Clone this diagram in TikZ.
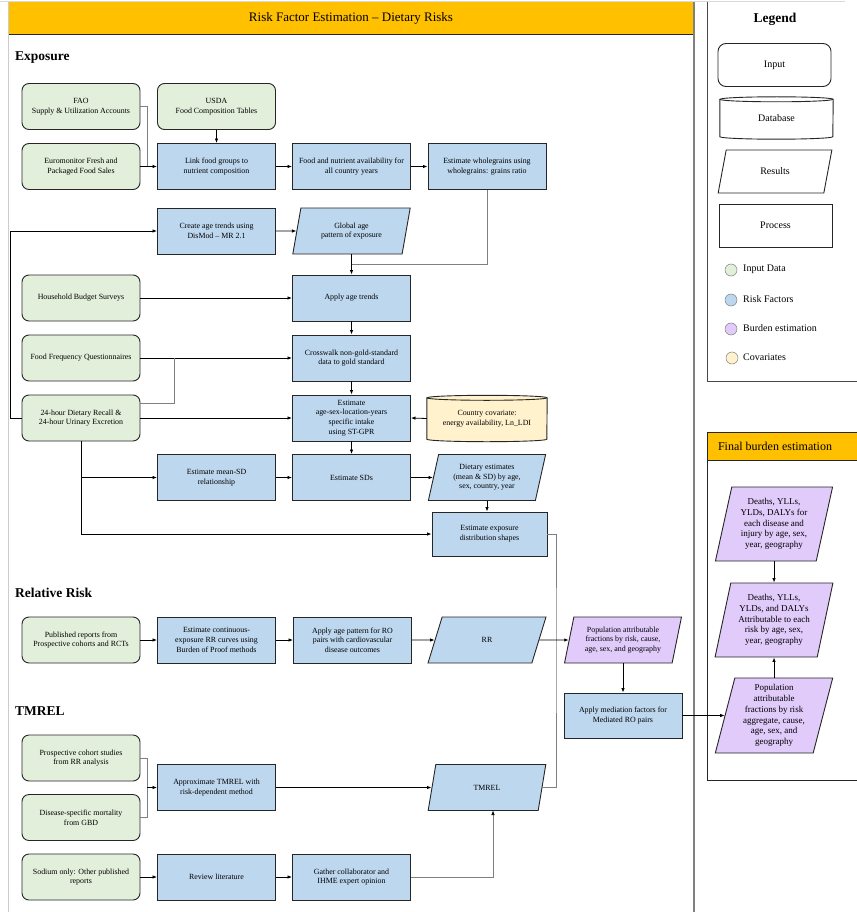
\documentclass[tikz,border=0pt]{standalone}
\usepackage{fontspec}
\setmainfont{Liberation Serif}
\usetikzlibrary{shapes.geometric,arrows.meta,calc}
\pgfdeclarelayer{back}
\pgfdeclarelayer{bg}
\pgfsetlayers{back,bg,main}
\definecolor{ingreen}{HTML}{E2EFDA}
\definecolor{rfblue}{HTML}{BDD7EE}
\definecolor{bpurple}{HTML}{E0CBFA}
\definecolor{hdryellow}{HTML}{FFC000}
\definecolor{covfill}{HTML}{FFF2CC}
\definecolor{edge}{HTML}{262626}
\definecolor{lgray}{HTML}{7F7F7F}
\definecolor{framegray}{HTML}{808080}
\newcommand\mycyl[3]{%
  \begin{pgfonlayer}{bg}
  \filldraw[fill=#2, draw=edge, line width=0.9pt]
    ([yshift=-2.5pt]#1.north west) -- ([yshift=2.5pt]#1.south west)
    arc[start angle=180, end angle=360, x radius=#3, y radius=2.5pt]
    -- ([yshift=-2.5pt]#1.north east)
    arc[start angle=0, end angle=180, x radius=#3, y radius=2.5pt] -- cycle;
  \draw[edge, line width=0.9pt] ([yshift=-2.5pt]#1.north west)
    arc[start angle=180, end angle=360, x radius=#3, y radius=2.5pt];
  \end{pgfonlayer}}
\begin{document}
\begin{tikzpicture}[x=1pt,y=-1pt,
  every node/.style={font=\fontsize{7.9}{9.7}\selectfont, align=center, inner sep=2pt},
  basebox/.style={draw=edge, line width=0.9pt, minimum width=118pt, minimum height=46pt},
  inbox/.style={basebox, rounded corners=7pt, fill=ingreen},
  procbox/.style={basebox, fill=rfblue},
  parabox/.style={basebox, trapezium, trapezium left angle=76, trapezium right angle=104, trapezium stretches=true},
  resbox/.style={parabox, fill=rfblue},
  burdbox/.style={parabox, fill=bpurple},
  finbox/.style={burdbox, minimum height=74pt, font=\fontsize{9}{10.7}\selectfont},
  cylnode/.style={minimum width=120pt, minimum height=46pt},
  arr/.style={line width=0.8pt, draw=black, -{Latex[length=4.5pt,width=3.5pt]}},
  garr/.style={line width=0.6pt, draw=lgray, -{Latex[length=4.5pt,width=3.5pt,color=black]}},
  gline/.style={line width=0.6pt, draw=lgray},
  heading/.style={font=\fontsize{13.5}{16}\selectfont\bfseries, anchor=west, inner sep=0pt},
  legtext/.style={font=\fontsize{10}{12}\selectfont, anchor=west, inner sep=0pt},
  legbox/.style={draw=edge, line width=0.9pt, minimum width=113pt, minimum height=43pt, font=\fontsize{10}{12}\selectfont},
  legdot/.style={circle, draw=lgray, line width=0.5pt, minimum size=12pt, inner sep=0pt},
]
\useasboundingbox (0,0) rectangle (856,912);
\begin{pgfonlayer}{back}
\fill[white] (0,0) rectangle (856,912);
\end{pgfonlayer}

% ---------- frames ----------
\draw[black!15, line width=0.6pt] (0,1.5) -- (845,1.5);
\fill[hdryellow] (8,2) rectangle (694,34);
\draw[edge, line width=0.8pt] (8,34) -- (694,34);
\node[font=\fontsize{13}{15}\selectfont] (title) at (351,18) {Risk Factor Estimation – Dietary Risks};
\draw[black!20, line width=0.6pt] (8,2) -- (8,912);
\draw[framegray, line width=1.6pt] (694,2) -- (694,912);
\draw[edge!85, line width=0.9pt] (707,2) -- (707,381) -- (857,381);
\fill[hdryellow] (707,432) rectangle (857,460);
\draw[edge, line width=0.9pt] (857,432) -- (707,432) -- (707,780) -- (857,780);
\draw[edge, line width=0.8pt] (707,460) -- (857,460);
\node[font=\fontsize{12}{14}\selectfont] (fbtitle) at (775,446) {Final burden estimation};

% ---------- legend ----------
\node[font=\fontsize{13.5}{16}\selectfont\bfseries] (legtitle) at (775,19) {Legend};
\node[legbox, rounded corners=8pt] (lgin) at (774.5,65) {Input};
\node[cylnode, minimum width=113pt, minimum height=42pt, font=\fontsize{10}{12}\selectfont] (lgdb) at (776.5,118) {Database};
\mycyl{lgdb}{white}{56.5pt}
\node[legbox, parabox, minimum width=114pt, minimum height=43pt] (lgres) at (775,171.5) {Results};
\node[legbox] (lgproc) at (775.5,225.5) {Process};
\node[legdot, fill=ingreen] (d1) at (731,270) {};
\node[legdot, fill=rfblue] (d2) at (731,300) {};
\node[legdot, fill=bpurple] (d3) at (731,329) {};
\node[legdot, fill=covfill] (d4) at (732,358) {};
\node[legtext] (t1) at (743,269) {Input Data};
\node[legtext] (t2) at (743,299) {Risk Factors};
\node[legtext] (t3) at (743,328) {Burden estimation};
\node[legtext] (t4) at (743,357) {Covariates};

% ---------- headings ----------
\node[heading] (hexp) at (15,58) {Exposure};
\node[heading] (hrr) at (15,593) {Relative Risk};
\node[heading] (htm) at (15,711) {TMREL};

% ---------- exposure ----------
\node[inbox] (fao) at (81,106.5) {FAO\\Supply \& Utilization Accounts};
\node[inbox] (usda) at (216.5,106.5) {USDA\\Food Composition Tables};
\node[inbox] (euro) at (81,166.5) {Euromonitor Fresh and\\Packaged Food Sales};
\node[procbox] (link) at (216.5,166.5) {Link food groups to\\nutrient composition};
\node[procbox] (food) at (351.5,166.5) {Food and nutrient availability for\\all country years};
\node[procbox] (whole) at (487,166.5) {Estimate wholegrains using\\wholegrains: grains ratio};
\node[procbox] (create) at (216.5,231) {Create age trends using\\DisMod – MR 2.1};
\node[resbox] (glob) at (351.5,231) {Global age\\pattern of exposure};
\node[inbox] (hbs) at (81,298) {Household Budget Surveys};
\node[procbox] (apply) at (351.5,298) {Apply age trends};
\node[inbox] (ffq) at (81,358) {Food Frequency Questionnaires};
\node[procbox] (cross) at (351.5,358) {Crosswalk non-gold-standard\\data to gold standard};
\node[inbox] (rec) at (81,418) {24-hour Dietary Recall \&\\24-hour Urinary Excretion};
\node[procbox] (stgpr) at (351.5,418) {Estimate\\age-sex-location-years\\specific intake\\using ST-GPR};
\node[cylnode] (cov) at (487,418.5) {Country covariate:\\energy availability, Ln\_LDI};
\mycyl{cov}{covfill}{60pt}
\node[procbox] (msd) at (216.5,477.5) {Estimate mean-SD\\relationship};
\node[procbox] (sds) at (351.5,477.5) {Estimate SDs};
\node[resbox] (diet) at (487,477.5) {Dietary estimates\\(mean \& SD) by age,\\sex, country, year};
\node[procbox, minimum width=115pt, minimum height=44pt] (shape) at (489.5,534) {Estimate exposure\\distribution shapes};

% ---------- relative risk ----------
\node[inbox] (pub) at (81,640) {Published reports from\\Prospective cohorts and RCTs};
\node[procbox] (cont) at (216.5,640) {Estimate continuous-\\exposure RR curves using\\Burden of Proof methods};
\node[procbox] (agep) at (352.5,640) {Apply age pattern for RO\\pairs with cardiovascular\\disease outcomes};
\node[resbox] (rr) at (487,640) {RR};
\node[burdbox] (paf) at (623,640) {Population attributable\\fractions by risk, cause,\\age, sex, and geography};
\node[procbox, minimum height=45pt] (med) at (623,715.5) {Apply mediation factors for\\Mediated RO pairs};

% ---------- TMREL ----------
\node[inbox] (pro) at (81,758) {Prospective cohort studies\\from RR analysis};
\node[inbox] (dis) at (81,817.5) {Disease-specific mortality\\from GBD};
\node[procbox] (appr) at (216.5,787.5) {Approximate TMREL with\\risk-dependent method};
\node[resbox] (tmrel) at (487,787.5) {TMREL};
\node[inbox] (sod) at (81,877) {Sodium only: Other published\\reports};
\node[procbox] (rev) at (216.5,877) {Review literature};
\node[procbox] (gath) at (351.5,877) {Gather collaborator and\\IHME expert opinion};

% ---------- final burden ----------
\node[finbox] (f1) at (774,524) {Deaths, YLLs,\\YLDs, DALYs for\\each disease and\\injury by age, sex,\\year, geography};
\node[finbox] (f2) at (774,620) {Deaths, YLLs,\\YLDs, and DALYs\\Attributable to each\\risk by age, sex,\\year, geography};
\node[finbox, minimum height=75pt] (f3) at (774,715.5) {Population\\attributable\\fractions by risk\\aggregate, cause,\\age, sex, and\\geography};

% ---------- connectors ----------
\draw[gline] (fao.east) -| ([xshift=7pt]euro.east);
\draw[arr] (euro.east) -- (link.west);
\draw[arr] (usda.south) -- (link.north);
\draw[arr] (link.east) -- (food.west);
\draw[arr] (food.east) -- (whole.west);
\draw[gline] (whole.south) |- ([yshift=10pt]apply.north);
\draw[arr] (create.east) -- (glob.west);
\draw[arr] (glob.center |- glob.south) -- (glob.center |- apply.north);
\draw[arr] (hbs.east) -- (apply.west);
\draw[arr] (apply.south) -- (cross.north);
\draw[arr] (ffq.east) -- (cross.west);
\draw[gline] ([yshift=15pt]rec.east) -| ([xshift=34pt]ffq.east);
\draw[arr] (rec.east) -- (stgpr.west);
\draw[arr] (rec.west) -- ++(-11,0) |- (create.west);
\draw[arr] (cross.south) -- (stgpr.north);
\draw[arr] (cov.west) -- (stgpr.east);
\draw[arr] (stgpr.south) -- (sds.north);
\draw[arr] (rec.south) |- (shape.west);
\draw[arr] (rec.south |- msd.west) -- (msd.west);
\draw[arr] (msd.east) -- (sds.west);
\draw[arr] (sds.east) -- (diet.west);
\draw[arr] (diet.center |- diet.south) -- (diet.center |- shape.north);
\coordinate (jn) at (556,640);
\draw[gline] (shape.east) -| (jn) |- (tmrel.east);
\draw[arr] (pub.east) -- (cont.west);
\draw[arr] (cont.east) -- (agep.west);
\draw[arr] (agep.east) -- (rr.west);
\draw[arr] (rr.east) -- (paf.west);
\draw[arr] (paf.center |- paf.south) -- (paf.center |- med.north);
\draw[arr] (med.east) -- (f3.west);
\draw[gline] (pro.east) -| ([xshift=7pt]dis.east) -- (dis.east);
\draw[arr] ([xshift=7pt]pro.east |- appr.west) -- (appr.west);
\draw[arr] (appr.east) -- (tmrel.west);
\draw[arr] (sod.east) -- (rev.west);
\draw[arr] (rev.east) -- (gath.west);
\draw[garr] (gath.east) -| ($(tmrel.center)+(6,23)$);
\draw[arr] (f1.center |- f1.south) -- (f1.center |- f2.north);
\draw[arr] (f3.center |- f3.north) -- (f3.center |- f2.south);
\end{tikzpicture}
\end{document}
